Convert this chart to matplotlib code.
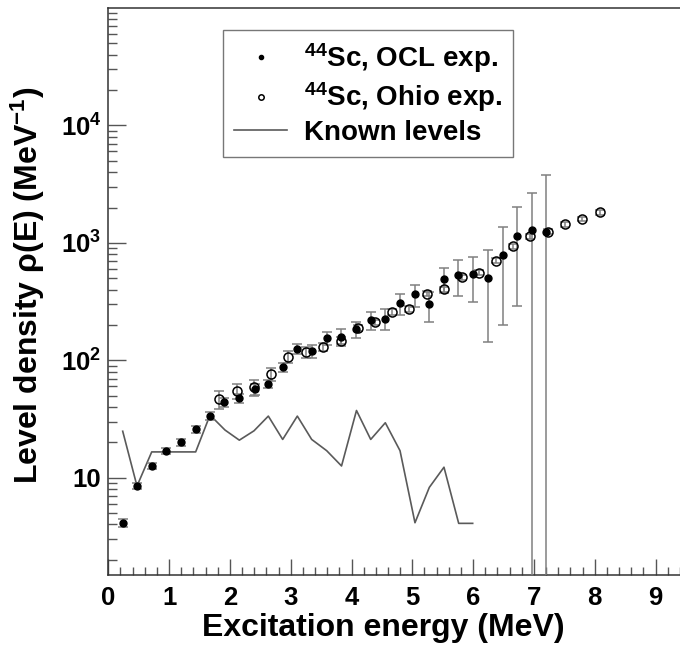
import matplotlib
matplotlib.use('Agg')
from matplotlib import pyplot as plt
from matplotlib import ticker

plt.rcParams['font.family'] = ['Liberation Sans', 'DejaVu Sans']
plt.rcParams['font.weight'] = 'bold'
plt.rcParams['mathtext.fontset'] = 'custom'
plt.rcParams['mathtext.rm'] = 'Liberation Sans:bold'
plt.rcParams['mathtext.bf'] = 'Liberation Sans:bold'
plt.rcParams['mathtext.it'] = 'Liberation Sans'
plt.rcParams['mathtext.default'] = 'rm'

## 44Sc level density, OCL experiment ##
ocl_energy = [0.237, 0.472, 0.714, 0.954, 1.191, 1.437, 1.673, 1.908, 2.150, 2.408,
              2.632, 2.873, 3.109, 3.355, 3.592, 3.832, 4.082, 4.316, 4.556, 4.798,
              5.039, 5.280, 5.521, 5.752, 6.002, 6.245, 6.484, 6.722, 6.964, 7.204]
ocl_rho = [4.14, 8.5, 12.6, 16.9, 20.0, 25.9, 33.7, 43.9, 47.4, 56.5,
           63.1, 87.1, 126, 120, 154.5, 158.6, 185, 220, 227, 305,
           364, 299, 489, 535, 539, 504, 785, 1148, 1276, 1241]
ocl_err = [0.3, 0.5, 0.8, 1.0, 1.2, 1.8, 2.4, 3.6, 3.9, 5.8,
           5.1, 7.1, 13, 15, 20, 25, 29, 38, 46, 60,
           77, 85, 118, 185, 225, 360, 585, 860, 1360, 2510]

## 44Sc level density, Ohio experiment ##
ohio_energy = [1.826, 2.112, 2.396, 2.676, 2.961, 3.247, 3.536, 3.824, 4.112, 4.386,
               4.671, 4.951, 5.237, 5.526, 5.812, 6.097, 6.377, 6.661, 6.936, 7.237,
               7.511, 7.796, 8.082]
ohio_rho = [46.8, 54.7, 58.8, 75.8, 107, 117, 130, 147, 187, 210,
            259, 274, 368, 401, 508, 557, 706, 938, 1140, 1241,
            1443, 1600, 1815]
ohio_err = [8, 8, 9, 9.5, 13, 13, 10, 10, 11, 12,
            14, 15, 18, 20, 25, 28, 35, 45, 55, 60,
            70, 75, 85]

## Known discrete levels ##
known_energy = [0.237, 0.472, 0.714, 0.954, 1.191, 1.437, 1.673, 1.919, 2.155, 2.396,
                2.632, 2.868, 3.109, 3.345, 3.592, 3.836, 4.082, 4.316, 4.556, 4.798,
                5.044, 5.280, 5.521, 5.763, 5.993]
known_rho = [24.9, 8.5, 16.6, 16.6, 16.6, 16.6, 34.2, 25.5, 20.9, 25.1,
             33.5, 21.2, 33.5, 21.2, 17.0, 12.6, 37.4, 21.2, 29.4, 17.0,
             4.14, 8.28, 12.3, 4.09, 4.09]

x_ticks = [0, 1, 2, 3, 4, 5, 6, 7, 8, 9]
y_ticks = [10, 100, 1000, 10000]
y_tick_labels = ['10', '$10^{2}$', '$10^{3}$', '$10^{4}$']

fig = plt.figure(figsize=(6.8, 6.46), dpi=100)
# the frame runs past the right edge of the picture, as in the original
ax = fig.add_axes([108.3 / 680, 1 - 575 / 646, 608 / 680, 567 / 646])

err_color = '#808080'
ax.plot(known_energy, known_rho, '-', color='#5a5a5a', lw=1.2, label='Known levels', zorder=2)
ax.errorbar(ohio_energy, ohio_rho, yerr=ohio_err, fmt='none', ecolor=err_color,
            elinewidth=1.1, capsize=3.5, capthick=1.1, zorder=3)
ax.errorbar(ocl_energy, ocl_rho, yerr=ocl_err, fmt='none', ecolor=err_color,
            elinewidth=1.1, capsize=3.5, capthick=1.1, zorder=3)
ax.plot(ohio_energy, ohio_rho, 'o', mfc='none', mec='black', mew=1.1, ms=6.5,
        label=r'$^{44}$Sc, Ohio exp.', zorder=4)
ax.plot(ocl_energy, ocl_rho, 'o', color='black', ms=5,
        label=r'$^{44}$Sc, OCL exp.', zorder=5)

ax.set_yscale('log')
ax.set_xlim(0, 10)
ax.set_ylim(1.486, 1e5)

ax.xaxis.set_major_locator(ticker.FixedLocator(x_ticks))
ax.xaxis.set_minor_locator(ticker.MultipleLocator(0.2))
ax.yaxis.set_major_locator(ticker.FixedLocator(y_ticks))
ax.yaxis.set_major_formatter(ticker.FixedFormatter(y_tick_labels))
ax.yaxis.set_minor_locator(ticker.LogLocator(subs=[2, 3, 4, 5, 6, 7, 8, 9]))
ax.yaxis.set_minor_formatter(ticker.NullFormatter())

ax.tick_params(axis='both', which='both', direction='in', color='#555555', width=1.0)
ax.tick_params(axis='x', which='major', length=11.5, pad=8, labelsize=18.5)
ax.tick_params(axis='x', which='minor', length=5.8)
ax.tick_params(axis='y', which='major', length=13, pad=5, labelsize=18.5)
ax.tick_params(axis='y', which='minor', length=6.5)
for side in ax.spines.values():
    side.set_color('#333333')
    side.set_linewidth(1.1)

ax.set_xlabel('Excitation energy (MeV)', fontsize=23, fontweight='bold')
ax.xaxis.set_label_coords((383 - 108.3) / 608, -(613 - 575) / 567)
ax.set_ylabel(r'Level density $\mathit{\rho}$(E) (MeV$^{-1}$)', fontsize=23, fontweight='bold')
ax.yaxis.set_label_coords(-(108.3 - 47) / 608, (575 - 285) / 567)

handles, labels = ax.get_legend_handles_labels()
order = [2, 1, 0]
leg = ax.legend([handles[i] for i in order], [labels[i] for i in order],
                loc='upper left', bbox_to_anchor=(223 / 680, 1 - 30 / 646),
                bbox_transform=fig.transFigure, fontsize=20, frameon=True,
                fancybox=False, edgecolor='#555555', markerscale=0.6,
                handlelength=1.9, handletextpad=0.6, labelspacing=0.2,
                borderpad=0.4, borderaxespad=0)
leg.get_frame().set_linewidth(1.0)

plt.savefig('out.png', dpi=100)
